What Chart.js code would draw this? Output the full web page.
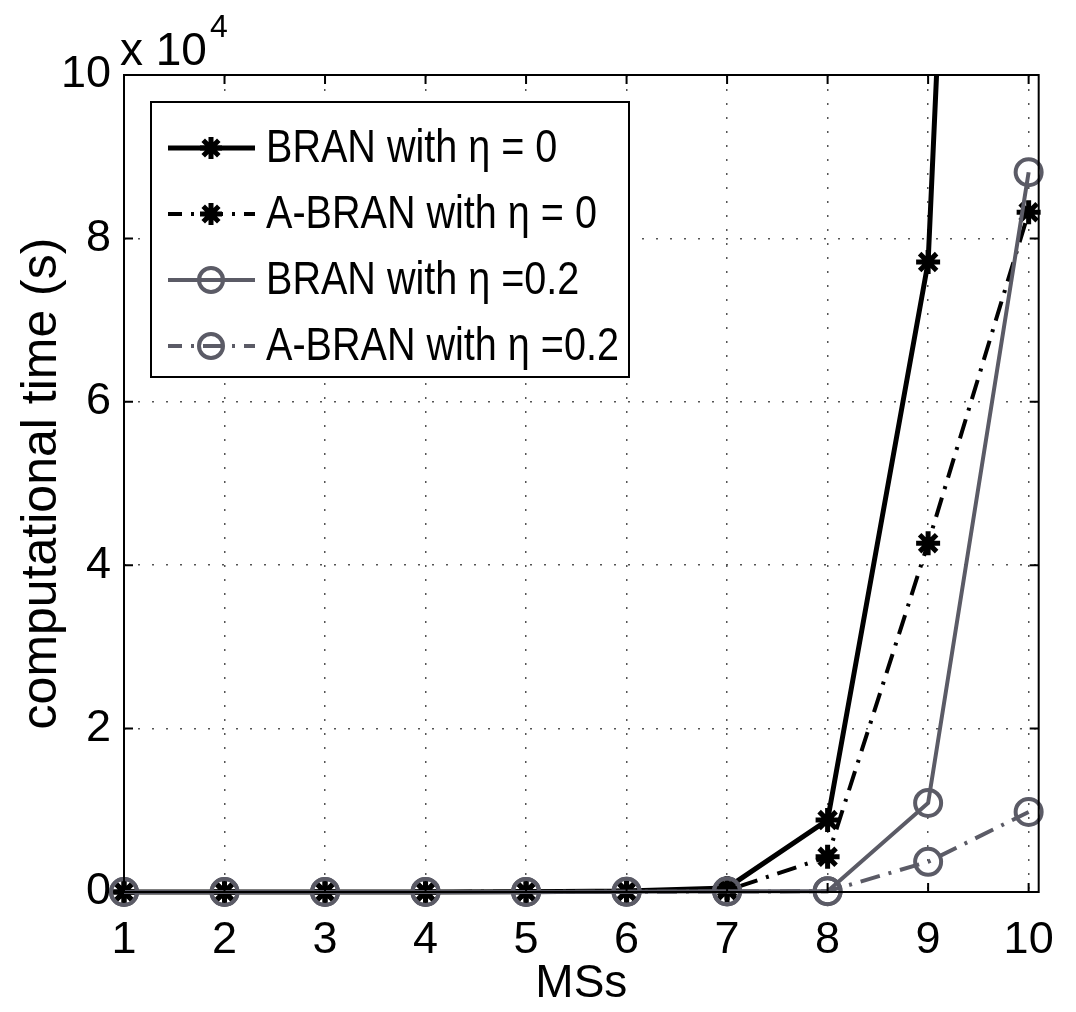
<!DOCTYPE html>
<html>
<head>
<meta charset="utf-8">
<script src="https://cdn.jsdelivr.net/npm/chart.js@4.4.1/dist/chart.umd.min.js"></script>
<style>
  html, body { margin: 0; padding: 0; background: #fff; }
  #cpu { display: block; }
</style>
</head>
<body>
<canvas id="cpu" width="1076" height="1012"></canvas>
<script>
// Number of MSs on the x axis
const msCount = [1, 2, 3, 4, 5, 6, 7, 8, 9, 10];

// Computational time in seconds for each method
const branEta0 = [1, 2, 6, 15, 40, 110, 500, 8800, 77100, 350000];
const abranEta0 = [1, 2, 4, 10, 25, 70, 200, 4300, 42700, 83200];
const branEta02 = [1, 1, 3, 7, 15, 35, 80, 100, 10900, 88100];
const abranEta02 = [1, 1, 2, 5, 10, 25, 60, 90, 3700, 9800];

const seriesNames = [
  "BRAN with η = 0",
  "A-BRAN with η = 0",
  "BRAN with η =0.2",
  "A-BRAN with η =0.2",
];

const xTicks = [1, 2, 3, 4, 5, 6, 7, 8, 9, 10];
const yTicks = [0, 20000, 40000, 60000, 80000, 100000];

const SANS = '"Liberation Sans", Arial, Helvetica, sans-serif';
const BLACK = "#000000";
const GREY = "#5b5b66";
const DASH_DOT = [20, 9, 3, 9];

function toPoints(ys) {
  return msCount.map((x, i) => ({ x, y: ys[i] }));
}

// Markers for the legend, same look as the plotted ones
function drawMarker(ctx, style, x, y, color) {
  ctx.save();
  ctx.strokeStyle = color;
  ctx.setLineDash([]);
  ctx.lineWidth = style === "star" ? 5 : 4;
  ctx.beginPath();
  if (style === "star") {
    const r = 11;
    for (let k = 0; k < 4; k++) {
      const a = (k * Math.PI) / 4;
      ctx.moveTo(x - r * Math.cos(a), y - r * Math.sin(a));
      ctx.lineTo(x + r * Math.cos(a), y + r * Math.sin(a));
    }
  } else {
    ctx.arc(x, y, 12, 0, Math.PI * 2);
  }
  ctx.stroke();
  ctx.restore();
}

const legendItems = [
  { color: BLACK, width: 5, dash: [], marker: "star" },
  { color: BLACK, width: 4, dash: DASH_DOT, marker: "star" },
  { color: GREY, width: 4, dash: [], marker: "circle" },
  { color: GREY, width: 4, dash: DASH_DOT, marker: "circle" },
];

// Box, inward ticks, exponent and legend drawn on top of the chart
const matlabFrame = {
  id: "matlabFrame",
  afterDraw(chart) {
    const { ctx, chartArea: a, scales } = chart;
    ctx.save();

    // inward tick marks on all four sides
    ctx.strokeStyle = BLACK;
    ctx.lineWidth = 2;
    ctx.beginPath();
    xTicks.forEach((v) => {
      const px = scales.x.getPixelForValue(v);
      ctx.moveTo(px, a.bottom);
      ctx.lineTo(px, a.bottom - 9);
      ctx.moveTo(px, a.top);
      ctx.lineTo(px, a.top + 9);
    });
    yTicks.forEach((v) => {
      const py = scales.y.getPixelForValue(v);
      ctx.moveTo(a.left, py);
      ctx.lineTo(a.left + 9, py);
      ctx.moveTo(a.right, py);
      ctx.lineTo(a.right - 9, py);
    });
    ctx.stroke();

    // axes box
    ctx.strokeRect(a.left, a.top, a.right - a.left, a.bottom - a.top);

    // x 10^4 multiplier
    ctx.fillStyle = BLACK;
    ctx.textBaseline = "alphabetic";
    ctx.textAlign = "left";
    ctx.font = `46px ${SANS}`;
    const base = "x 10";
    ctx.fillText(base, a.left - 4, a.top - 10);
    const w = ctx.measureText(base).width;
    ctx.font = `32px ${SANS}`;
    ctx.fillText("4", a.left - 1 + w, a.top - 38);

    // legend
    const box = { x: 151, y: 102, w: 478, h: 275 };
    ctx.fillStyle = "#ffffff";
    ctx.fillRect(box.x, box.y, box.w, box.h);
    ctx.lineWidth = 2;
    ctx.strokeStyle = BLACK;
    ctx.strokeRect(box.x, box.y, box.w, box.h);

    const rowY = [148, 214, 280, 346];
    legendItems.forEach((it, i) => {
      const y = rowY[i];
      ctx.save();
      ctx.strokeStyle = it.color;
      ctx.lineWidth = it.width;
      ctx.setLineDash(it.dash);
      ctx.lineDashOffset = it.dash.length ? 6 : 0;
      ctx.beginPath();
      ctx.moveTo(168, y);
      ctx.lineTo(255, y);
      ctx.stroke();
      ctx.restore();
      drawMarker(ctx, it.marker, 211, y, it.color);

      // tall, slightly condensed lettering
      ctx.save();
      ctx.translate(266, y + 1);
      ctx.scale(0.86, 1);
      ctx.fillStyle = BLACK;
      ctx.font = `46px ${SANS}`;
      ctx.textBaseline = "middle";
      ctx.fillText(seriesNames[i], 0, 0);
      ctx.restore();
    });

    ctx.restore();
  },
};

const commonLine = {
  fill: false,
  tension: 0,
  showLine: true,
  pointBackgroundColor: "rgba(0,0,0,0)",
  clip: false,
};

new Chart(document.getElementById("cpu"), {
  type: "scatter",
  data: {
    datasets: [
      {
        ...commonLine,
        label: seriesNames[0],
        data: toPoints(branEta0),
        borderColor: BLACK,
        borderWidth: 5,
        pointStyle: "star",
        pointRadius: 12,
        pointBorderWidth: 5,
        pointBorderColor: BLACK,
        // the last point lies far above the axes, cut the line at the top
        clip: { left: false, right: false, bottom: false, top: 0 },
        order: 4,
      },
      {
        ...commonLine,
        label: seriesNames[1],
        data: toPoints(abranEta0),
        borderColor: BLACK,
        borderWidth: 4,
        borderDash: DASH_DOT,
        pointStyle: "star",
        pointRadius: 12,
        pointBorderWidth: 5,
        pointBorderColor: BLACK,
        order: 3,
      },
      {
        ...commonLine,
        label: seriesNames[2],
        data: toPoints(branEta02),
        borderColor: GREY,
        borderWidth: 4,
        pointStyle: "circle",
        pointRadius: 13,
        pointBorderWidth: 4,
        pointBorderColor: GREY,
        order: 2,
      },
      {
        ...commonLine,
        label: seriesNames[3],
        data: toPoints(abranEta02),
        borderColor: GREY,
        borderWidth: 4,
        borderDash: DASH_DOT,
        pointStyle: "circle",
        pointRadius: 13,
        pointBorderWidth: 4,
        pointBorderColor: GREY,
        order: 1,
      },
    ],
  },
  options: {
    responsive: false,
    animation: false,
    events: [],
    layout: { padding: { top: 75, right: 31, left: 0, bottom: 0 } },
    plugins: {
      legend: { display: false },
      tooltip: { enabled: false },
    },
    scales: {
      x: {
        type: "linear",
        min: 1,
        max: 10.1,
        afterFit: (s) => { s.height = 120; },
        afterBuildTicks: (s) => { s.ticks = xTicks.map((v) => ({ value: v })); },
        ticks: {
          includeBounds: false,
          color: BLACK,
          padding: 22,
          maxRotation: 0,
          font: { family: SANS, size: 45 },
        },
        grid: { color: "#555", lineWidth: 1.5, drawTicks: false },
        border: { display: false, dash: [2, 12] },
        title: {
          display: true,
          text: "MSs",
          color: BLACK,
          padding: 0,
          font: { family: SANS, size: 46 },
        },
      },
      y: {
        type: "linear",
        min: 0,
        max: 100000,
        afterFit: (s) => { s.width = 124; },
        afterBuildTicks: (s) => { s.ticks = yTicks.map((v) => ({ value: v })); },
        ticks: {
          color: BLACK,
          padding: 13,
          font: { family: SANS, size: 45 },
          callback: (v) => v / 10000,
        },
        grid: { color: "#555", lineWidth: 1.5, drawTicks: false },
        border: { display: false, dash: [2, 12] },
        title: {
          display: true,
          text: "computational time (s)",
          color: BLACK,
          padding: { top: 12, bottom: 0 },
          font: { family: SANS, size: 50 },
        },
      },
    },
  },
  plugins: [matlabFrame],
});
</script>
</body>
</html>
